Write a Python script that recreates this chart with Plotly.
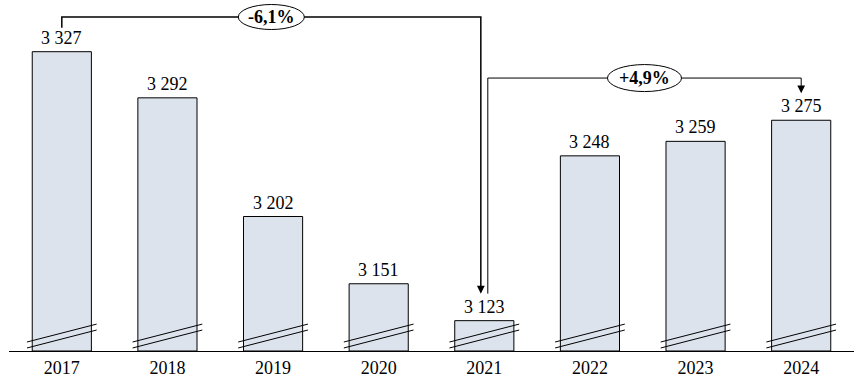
import plotly.graph_objects as go

years = ["2017", "2018", "2019", "2020", "2021", "2022", "2023", "2024"]
values = [3327, 3292, 3202, 3151, 3123, 3248, 3259, 3275]
change_labels = ["-6,1%", "+4,9%"]
axis_base = 3100
y_top = 3366.2

FONT = "Liberation Serif"
FILL = "#dce3ed"

fig = go.Figure()
fig.add_trace(go.Bar(
    x=list(range(len(years))),
    y=[v - axis_base for v in values],
    base=axis_base,
    width=0.56,
    marker=dict(color=FILL, line=dict(color="black", width=1)),
    hoverinfo="skip",
))

def fmt(v):
    return f"{v:,}".replace(",", " ")

annotations = []
shapes = []
for i, v in enumerate(values):
    annotations.append(dict(x=i, y=v, text=fmt(v), showarrow=False,
                            yanchor="bottom", yshift=2,
                            font=dict(family=FONT, size=18, color="black")))

half = 0.33
for i, v in enumerate(values):
    for (ya, yb) in [(3102.3, 3115.9), (3106.8, 3120.4)]:
        shapes.append(dict(type="line", xref="x", yref="y",
                           x0=i - half, x1=i + half, y0=ya, y1=yb,
                           line=dict(color="black", width=1)))

off = 0.033
tip = 20.5
b1 = 3353.3
b2 = 3307.0
shapes.append(dict(type="path", xref="x", yref="y",
                   path=f"M 0 {values[0]+18.2} L 0 {b1} L {4-off} {b1} L {4-off} {values[4]+tip+4}",
                   line=dict(color="black", width=1.5)))
annotations.append(dict(x=4 - off, y=values[4] + tip, ax=4 - off, ay=values[4] + tip + 6,
                        axref="x", ayref="y", xref="x", yref="y", showarrow=True,
                        arrowhead=2, arrowsize=1.3, arrowwidth=1.2, arrowcolor="black", text=""))
shapes.append(dict(type="path", xref="x", yref="y",
                   path=f"M {4+off} {values[4]+tip} L {4+off} {b2} L 7 {b2} L 7 {values[7]+tip+4}",
                   line=dict(color="black", width=1)))
annotations.append(dict(x=7, y=values[7] + tip, ax=7, ay=values[7] + tip + 6,
                        axref="x", ayref="y", xref="x", yref="y", showarrow=True,
                        arrowhead=2, arrowsize=1.3, arrowwidth=1.2, arrowcolor="black", text=""))

for (xc, yc, w, h, lab) in [((0 + 4 - off) / 2, b1, 66, 25, change_labels[0]),
                            ((4 + off + 7) / 2, b2, 74, 27, change_labels[1])]:
    shapes.append(dict(type="circle", xref="x", yref="y",
                       xsizemode="pixel", ysizemode="pixel",
                       xanchor=xc, yanchor=yc,
                       x0=-w / 2, x1=w / 2, y0=-h / 2, y1=h / 2,
                       fillcolor="white", line=dict(color="black", width=1), layer="above"))
    annotations.append(dict(x=xc, y=yc, text=f"<b>{lab}</b>", showarrow=False,
                            font=dict(family=FONT, size=18, color="black")))

fig.update_layout(
    width=864, height=391,
    margin=dict(l=8.6, r=9.6, t=0, b=40),
    paper_bgcolor="white", plot_bgcolor="white",
    showlegend=False,
    font=dict(family=FONT, size=18, color="black"),
    shapes=shapes, annotations=annotations,
    xaxis=dict(range=[-0.5, 7.5], tickmode="array", tickvals=list(range(len(years))),
               ticktext=years, showgrid=False, zeroline=False,
               showline=True, linecolor="black", linewidth=1, ticks="",
               tickfont=dict(family=FONT, size=18, color="black")),
    yaxis=dict(range=[axis_base, y_top], visible=False, showgrid=False, zeroline=False),
)

fig.write_html("out.html", config={"displayModeBar": False, "staticPlot": True},
               post_script="document.body.style.margin='0';document.body.style.overflow='hidden';")
